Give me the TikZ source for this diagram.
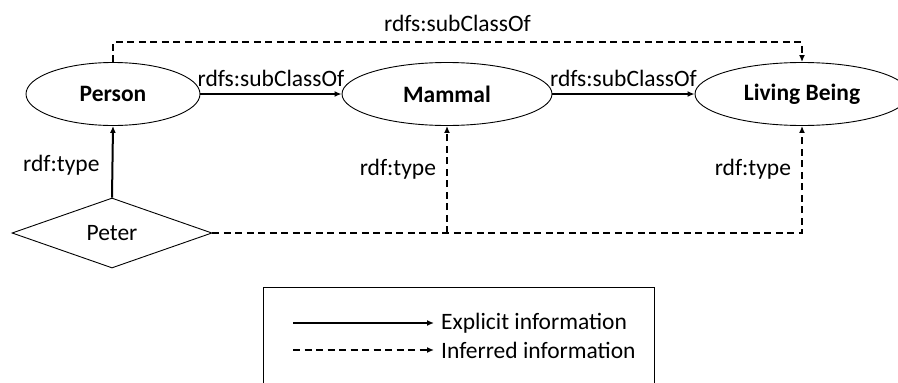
\documentclass[tikz,border=0pt]{standalone}
\usepackage{fontspec}
\setmainfont{Carlito}
\usetikzlibrary{shapes.geometric,arrows.meta}
\begin{document}
\begin{tikzpicture}[x=1pt,y=-1pt,
  cls/.style={draw,ellipse,line width=0.9pt,minimum width=#1,minimum height=63pt,inner sep=0pt,font=\fontsize{23.5}{28}\selectfont\bfseries},
  inst/.style={draw,diamond,aspect=2.85,line width=0.9pt,minimum width=200pt,minimum height=70pt,inner sep=0pt,font=\fontsize{23.5}{28}\selectfont},
  lbl/.style={font=\fontsize{23.5}{28}\selectfont,inner sep=0pt},
  expl/.style={line width=2pt,-{Latex[length=7pt,width=6pt]}},
  infr/.style={line width=2pt,dash pattern=on 7pt off 4.5pt,-{Latex[length=7pt,width=6pt]}}]
\useasboundingbox (0,0) rectangle (898,383);
\fill[white] (0,0) rectangle (898,383);
\node[cls=174pt] (person) at (113,94) {Person};
\node[cls=210pt] (mammal) at (447,94) {Mammal};
\node[cls=214pt] (living) at (802,94) {Living Being};
\node[inst] (peter) at (112,233) {Peter};
% explicit
\draw[expl] (person.east) -- node[lbl,above=6pt] {rdfs:subClassOf} (mammal.west);
\draw[expl] (mammal.east) -- node[lbl,above=6pt] {rdfs:subClassOf} (living.west);
\draw[expl] (peter.north) -- node[lbl,left=12pt,pos=0.45] {rdf:type} (person.south);
% inferred
\coordinate (t1) at (113,42);
\coordinate (t2) at (802,42);
\draw[infr] (person.north) -- (t1) -- node[lbl,above=9pt] {rdfs:subClassOf} (t2) -- (living.north);
\coordinate (b1) at (447,233);
\coordinate (b2) at (802,233);
\draw[infr] (peter.east) -- (b2) -- node[lbl,left=10pt,pos=0.6] {rdf:type} (living.south);
\draw[infr] (b1) -- node[lbl,left=10pt,pos=0.6] {rdf:type} (mammal.south);
% legend
\draw[line width=0.8pt] (263,395) -- (263,287) -- (654,287) -- (654,395);
\coordinate (l1a) at (293,323);
\coordinate (l1b) at (434,323);
\node[lbl,anchor=west] (l1) at (441,323) {Explicit information};
\draw[expl] (l1a) -- (l1b);
\coordinate (l2a) at (293,350);
\coordinate (l2b) at (434,350);
\node[lbl,anchor=west] (l2) at (441,350) {Inferred information};
\draw[infr] (l2a) -- (l2b);
\end{tikzpicture}
\end{document}
